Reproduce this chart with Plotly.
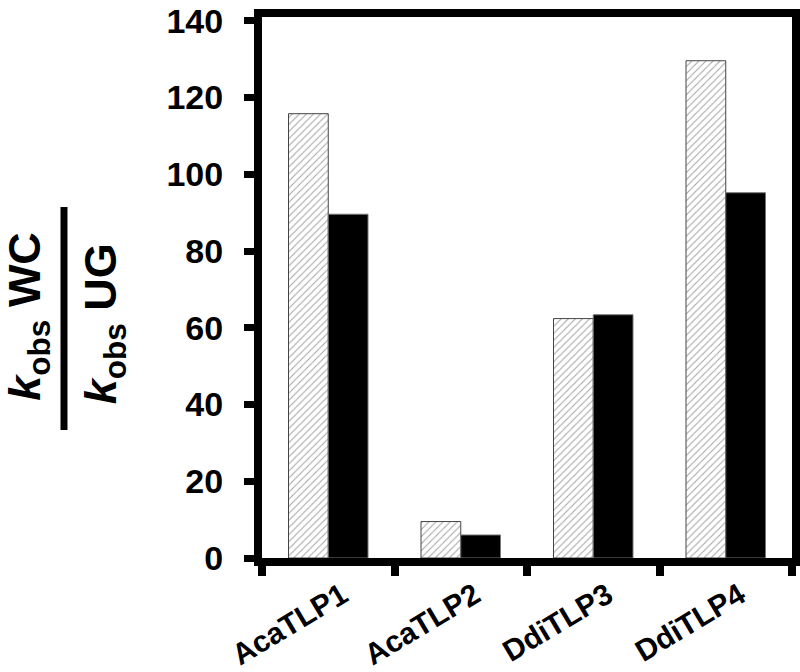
import plotly.graph_objects as go

categories = ["AcaTLP1", "AcaTLP2", "DdiTLP3", "DdiTLP4"]
hatched_vals = [115.8, 9.5, 62.4, 129.6]
black_vals = [89.6, 6.0, 63.4, 95.2]
y_ticks = [0, 20, 40, 60, 80, 100, 120, 140]

_FONT = "Arial, 'Liberation Sans', sans-serif"

fig = go.Figure()
fig.add_trace(go.Bar(
    x=categories, y=hatched_vals,
    marker=dict(
        color="white",
        line=dict(color="#444444", width=1),
        pattern=dict(shape="/", fgcolor="#444444", bgcolor="white",
                     size=5, solidity=0.2),
    ),
))
fig.add_trace(go.Bar(
    x=categories, y=black_vals,
    marker=dict(color="black", line=dict(color="#777777", width=1)),
))

fig.update_layout(
    width=800, height=672,
    paper_bgcolor="white", plot_bgcolor="white",
    showlegend=False,
    barmode="group", bargap=0.4, bargroupgap=0,
    margin=dict(l=262, r=8, t=17, b=114),
    font=dict(family=_FONT, color="black"),
    xaxis=dict(
        automargin=False,
        showline=True, linecolor="black", linewidth=8, mirror=True,
        ticks="outside", tickson="boundaries", ticklen=10, tickwidth=8,
        tickcolor="black", tickangle=-31, ticklabelshift=14,
        tickfont=dict(family=_FONT, size=30, color="black", weight="bold"),
        showgrid=False,
    ),
    yaxis=dict(
        automargin=False, ticklabeloverflow="allow",
        range=[0, 141], tickvals=y_ticks,
        showline=True, linecolor="black", linewidth=8, mirror=True,
        ticks="outside", ticklen=10, tickwidth=7, tickcolor="black",
        ticklabelstandoff=14,
        tickfont=dict(family=_FONT, size=34, color="black", weight="bold"),
        showgrid=False, zeroline=False,
    ),
)

# stacked fraction label for the y axis
fig.add_annotation(
    xref="paper", yref="paper", x=-0.50, y=0.447,
    text="<b><i>k</i><sub>obs</sub> WC</b>", textangle=-90, showarrow=False,
    font=dict(family=_FONT, size=45, color="black"),
)
fig.add_annotation(
    xref="paper", yref="paper", x=-0.357, y=0.4325,
    text="<b><i>k</i><sub>obs</sub> UG</b>", textangle=-90, showarrow=False,
    font=dict(family=_FONT, size=45, color="black"),
)
fig.add_shape(
    type="line", xref="paper", yref="paper",
    x0=-0.3736, x1=-0.3736, y0=0.2366, y1=0.6488,
    line=dict(color="black", width=7),
)

# drop the browser's default 8px body margin so the figure sits at 0,0
fig.write_html("out.html", config={"displayModeBar": False},
               post_script="document.body.style.margin='0';")
